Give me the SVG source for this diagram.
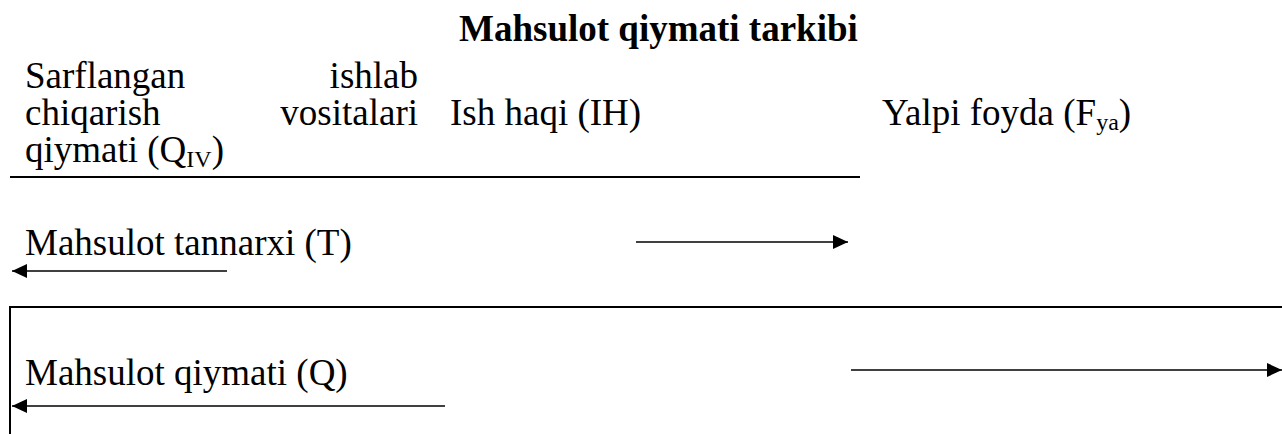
<svg xmlns="http://www.w3.org/2000/svg" width="1282" height="434" viewBox="0 0 1282 434">
<style>
text{font-family:"Liberation Serif","Times New Roman",serif;font-size:37px;fill:#000}
.title{font-weight:bold}
.sub{font-size:24px}
.ln{stroke:#000;stroke-width:2;fill:none}
.ar{stroke:#000;stroke-width:1.6;fill:none}
</style>
<defs>
<marker id="ah" markerUnits="userSpaceOnUse" markerWidth="16" markerHeight="14" refX="15" refY="7" orient="auto">
<path d="M0,0 L15,7 L0,14 z" fill="#000"/>
</marker>
</defs>
<rect width="1282" height="434" fill="#fff"/>
<g id="title"><text class="title" x="459" y="41">Mahsulot qiymati tarkibi</text></g>
<g id="node-qiv">
<text x="25" y="88">Sarflangan</text>
<text x="418" y="88" text-anchor="end">ishlab</text>
<text x="25" y="125">chiqarish</text>
<text x="418" y="125" text-anchor="end">vositalari</text>
<text x="25" y="162">qiymati (Q<tspan class="sub" dy="5">IV</tspan><tspan dy="-5">)</tspan></text>
</g>
<g id="node-ih"><text x="450" y="125">Ish haqi (IH)</text></g>
<g id="node-fya"><text x="882" y="125">Yalpi foyda (F<tspan class="sub" dy="5">ya</tspan><tspan dy="-5">)</tspan></text></g>
<g id="node-t"><text x="25" y="255">Mahsulot tannarxi (T)</text></g>
<g id="node-q"><text x="25" y="385">Mahsulot qiymati (Q)</text></g>
<g id="connectors">
<line class="ln" x1="10" y1="177" x2="860" y2="177"/>
<line class="ar" x1="227" y1="271" x2="12" y2="271" marker-end="url(#ah)"/>
<line class="ar" x1="636" y1="242" x2="848" y2="242" marker-end="url(#ah)"/>
<path class="ln" d="M10,434 L10,307 L1282,307"/>
<line class="ar" x1="445" y1="406" x2="12" y2="406" marker-end="url(#ah)"/>
<line class="ar" x1="851" y1="370" x2="1282" y2="370" marker-end="url(#ah)"/>
</g>
</svg>
